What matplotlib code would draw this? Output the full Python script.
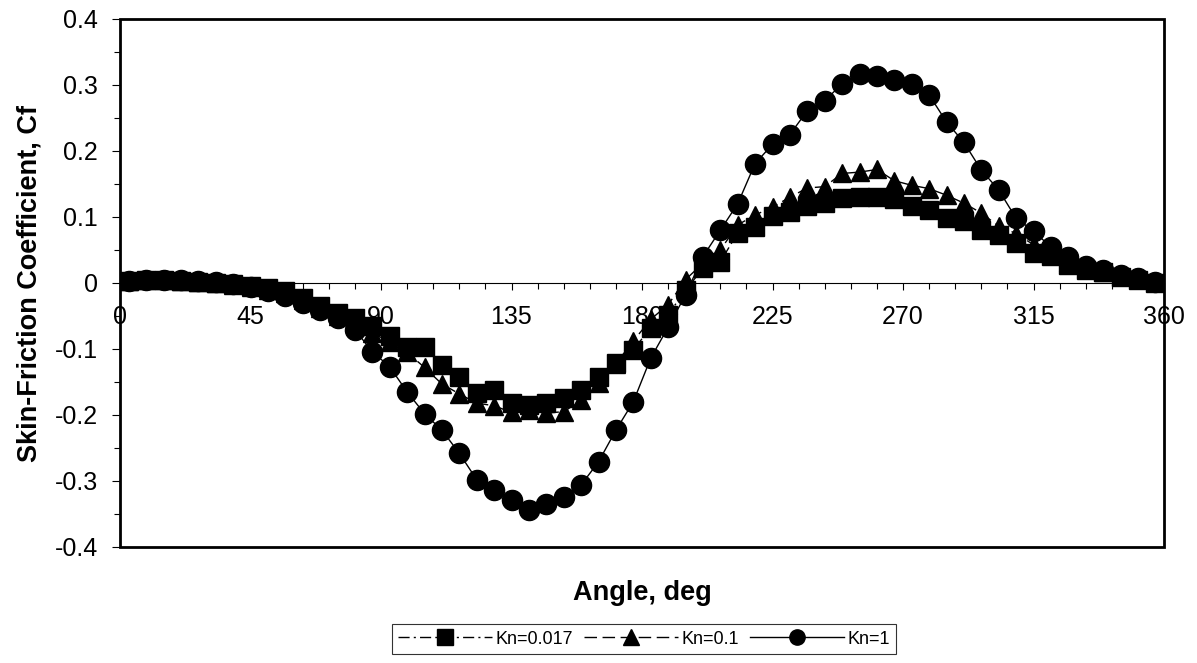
import matplotlib
matplotlib.use("Agg")
import matplotlib.pyplot as plt
from matplotlib.patches import Rectangle
from matplotlib.ticker import MultipleLocator

plt.rcParams["font.family"] = ["Liberation Sans", "DejaVu Sans"]

angle = [3, 9, 15, 21, 27, 33, 39, 45, 51, 57, 63, 69, 75, 81, 87, 93, 99, 105,
         111, 117, 123, 129, 135, 141, 147, 153, 159, 165, 171, 177, 183, 189,
         195, 201, 207, 213, 219, 225, 231, 237, 243, 249, 255, 261, 267, 273,
         279, 285, 291, 297, 303, 309, 315, 321, 327, 333, 339, 345, 351, 357]

cf_kn0017 = [0.003, 0.004, 0.004, 0.003, 0.002, 0.000, -0.002, -0.005, -0.008, -0.012,
             -0.022, -0.035, -0.045, -0.053, -0.065, -0.080, -0.097, -0.097, -0.124, -0.142,
             -0.167, -0.162, -0.182, -0.185, -0.182, -0.174, -0.162, -0.142, -0.121, -0.101,
             -0.068, -0.048, -0.011, 0.022, 0.032, 0.076, 0.085, 0.102, 0.108, 0.117,
             0.121, 0.129, 0.130, 0.130, 0.127, 0.116, 0.110, 0.098, 0.094, 0.081,
             0.072, 0.060, 0.046, 0.041, 0.028, 0.020, 0.016, 0.009, 0.005, 0.000]

cf_kn01 = [0.003, 0.004, 0.004, 0.003, 0.002, 0.000, -0.003, -0.006, -0.010, -0.015,
           -0.025, -0.038, -0.050, -0.060, -0.075, -0.090, -0.105, -0.128, -0.153, -0.168,
           -0.182, -0.186, -0.196, -0.193, -0.197, -0.195, -0.178, -0.152, -0.122, -0.088,
           -0.055, -0.033, 0.005, 0.030, 0.050, 0.088, 0.103, 0.115, 0.130, 0.144,
           0.146, 0.166, 0.168, 0.172, 0.155, 0.148, 0.143, 0.133, 0.121, 0.106,
           0.086, 0.075, 0.058, 0.045, 0.032, 0.023, 0.017, 0.010, 0.006, 0.001]

cf_kn1 = [0.003, 0.004, 0.005, 0.005, 0.003, 0.001, -0.002, -0.006, -0.012, -0.020,
          -0.030, -0.041, -0.053, -0.071, -0.104, -0.127, -0.165, -0.198, -0.223, -0.258,
          -0.298, -0.314, -0.329, -0.344, -0.335, -0.324, -0.306, -0.271, -0.223, -0.180,
          -0.114, -0.067, -0.018, 0.040, 0.080, 0.120, 0.181, 0.210, 0.225, 0.261,
          0.276, 0.302, 0.317, 0.314, 0.307, 0.302, 0.285, 0.244, 0.213, 0.171,
          0.141, 0.098, 0.079, 0.054, 0.039, 0.026, 0.019, 0.012, 0.007, 0.002]

fig = plt.figure(figsize=(11.97, 6.63), dpi=100)
ax = fig.add_axes([120 / 1197, 1 - 547 / 663, (1164 - 120) / 1197, (547 - 19) / 663])

ax.plot(angle, cf_kn0017, color="black", lw=1, dashes=[8, 3, 1.5, 3],
        marker="s", markersize=13.5, label="Kn=0.017")
ax.plot(angle, cf_kn01, color="black", lw=1, dashes=[9, 4],
        marker="^", markersize=13.5, label="Kn=0.1")
ax.plot(angle, cf_kn1, color="black", lw=1, linestyle="-",
        marker="o", markersize=14.5, label="Kn=1")

ax.set_xlim(0, 360)
ax.set_ylim(-0.4, 0.4)

# x axis runs through y = 0, the box is drawn separately
ax.spines["bottom"].set_position(("data", 0))
ax.spines["bottom"].set_linewidth(0.8)
for side in ["top", "right", "left"]:
    ax.spines[side].set_visible(False)
ax.add_patch(Rectangle((0, 0), 1, 1, transform=ax.transAxes, fill=False,
                       edgecolor="black", lw=2, clip_on=False, zorder=5))

ax.xaxis.set_major_locator(MultipleLocator(45))
ax.xaxis.set_minor_locator(MultipleLocator(9))
ax.yaxis.set_major_locator(MultipleLocator(0.1))
ax.yaxis.set_minor_locator(MultipleLocator(0.05))
ax.tick_params(axis="x", which="major", direction="out", length=5, width=0.8,
               labelsize=18, pad=11)
ax.tick_params(axis="x", which="minor", direction="out", length=4, width=0.8)
ax.tick_params(axis="y", which="major", direction="out", length=6, width=0.8,
               labelsize=18, pad=10)
ax.tick_params(axis="y", which="minor", direction="out", length=4, width=0.8)
ax.set_yticks([-0.4, -0.3, -0.2, -0.1, 0, 0.1, 0.2, 0.3, 0.4])
ax.set_yticklabels(["-0.4", "-0.3", "-0.2", "-0.1", "0", "0.1", "0.2", "0.3", "0.4"])

ax.set_xlabel("Angle, deg", fontsize=19.5, fontweight="bold")
ax.xaxis.set_label_coords(0.5, -0.063)
ax.set_ylabel("Skin-Friction Coefficient, Cf", fontsize=19.5, fontweight="bold")
ax.yaxis.set_label_coords(-0.074, 0.5)

leg = fig.legend(loc="center", bbox_to_anchor=(644 / 1197, 1 - 639 / 663), ncol=3,
                 fontsize=13, frameon=True, fancybox=False, handlelength=5.2,
                 columnspacing=0.6, handletextpad=0.2, borderpad=0.35)
leg.get_frame().set_edgecolor("black")
leg.get_frame().set_linewidth(0.8)
for h in leg.legend_handles:
    h.set_markersize(11)

fig.savefig("out.png", dpi=100)
